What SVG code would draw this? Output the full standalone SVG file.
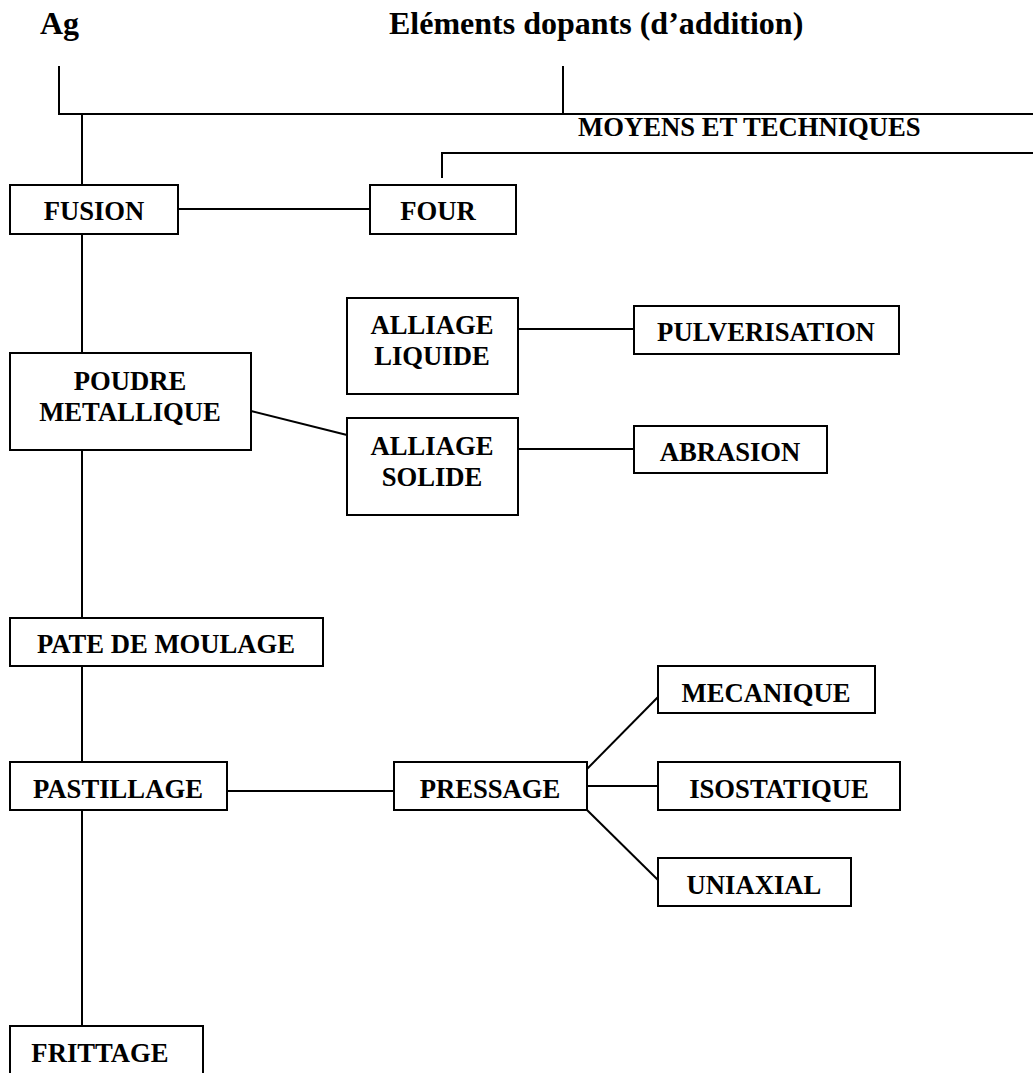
<svg xmlns="http://www.w3.org/2000/svg" width="1033" height="1073" viewBox="0 0 1033 1073">
<style>
  .box { fill: #ffffff; stroke: #000000; stroke-width: 2; }
  .ln { fill: none; stroke: #000000; stroke-width: 2; }
  text { font-family: "Liberation Serif", "Times New Roman", serif; font-weight: bold; fill: #000000; }
  .t { font-size: 26.67px; text-anchor: middle; }
  .h { font-size: 32px; }
  .m { font-size: 26.67px; }
</style>
<rect width="1033" height="1073" fill="#ffffff"/>
<g id="header">
  <text class="h" x="40" y="34">Ag</text>
  <text class="h" x="389" y="34">Eléments dopants (d’addition)</text>
  <text class="m" x="578" y="136">MOYENS ET TECHNIQUES</text>
</g>
<g id="connectors">
  <path class="ln" d="M59 66 V114 H1033"/>
  <path class="ln" d="M563 66 V114"/>
  <path class="ln" d="M82 114 V185"/>
  <path class="ln" d="M442 178 V153 H1033"/>
  <path class="ln" d="M177 209 H370"/>
  <path class="ln" d="M82 234 V353"/>
  <path class="ln" d="M518 329 H634"/>
  <path class="ln" d="M251 411 L347 435"/>
  <path class="ln" d="M518 449 H634"/>
  <path class="ln" d="M82 450 V618"/>
  <path class="ln" d="M82 666 V762"/>
  <path class="ln" d="M227 791 H394"/>
  <path class="ln" d="M587 769 L658 697"/>
  <path class="ln" d="M587 786 H658"/>
  <path class="ln" d="M587 810 L658 880"/>
  <path class="ln" d="M82 810 V1026"/>
</g>
<g id="fusion"><rect class="box" x="10" y="185" width="168" height="49"/><text class="t" x="94" y="220">FUSION</text></g>
<g id="four"><rect class="box" x="370" y="185" width="146" height="49"/><text class="t" x="438" y="220">FOUR</text></g>
<g id="alliage-liquide"><rect class="box" x="347" y="298" width="171" height="96"/><text class="t" x="432" y="334">ALLIAGE</text><text class="t" x="432" y="365">LIQUIDE</text></g>
<g id="pulverisation"><rect class="box" x="634" y="306" width="265" height="48"/><text class="t" x="766" y="341">PULVERISATION</text></g>
<g id="poudre-metallique"><rect class="box" x="10" y="353" width="241" height="97"/><text class="t" x="130" y="390">POUDRE</text><text class="t" x="130" y="421">METALLIQUE</text></g>
<g id="alliage-solide"><rect class="box" x="347" y="418" width="171" height="97"/><text class="t" x="432" y="455">ALLIAGE</text><text class="t" x="432" y="486">SOLIDE</text></g>
<g id="abrasion"><rect class="box" x="634" y="426" width="193" height="47"/><text class="t" x="730" y="461">ABRASION</text></g>
<g id="pate-de-moulage"><rect class="box" x="10" y="618" width="313" height="48"/><text class="t" x="166" y="653">PATE DE MOULAGE</text></g>
<g id="pastillage"><rect class="box" x="10" y="762" width="217" height="48"/><text class="t" x="118" y="798">PASTILLAGE</text></g>
<g id="pressage"><rect class="box" x="394" y="762" width="193" height="48"/><text class="t" x="490" y="798">PRESSAGE</text></g>
<g id="mecanique"><rect class="box" x="658" y="666" width="217" height="47"/><text class="t" x="766" y="702">MECANIQUE</text></g>
<g id="isostatique"><rect class="box" x="658" y="762" width="242" height="48"/><text class="t" x="779" y="798">ISOSTATIQUE</text></g>
<g id="uniaxial"><rect class="box" x="658" y="858" width="193" height="48"/><text class="t" x="754" y="894">UNIAXIAL</text></g>
<g id="frittage"><rect class="box" x="10" y="1026" width="193" height="80"/><text class="t" x="100" y="1062">FRITTAGE</text></g>
</svg>
